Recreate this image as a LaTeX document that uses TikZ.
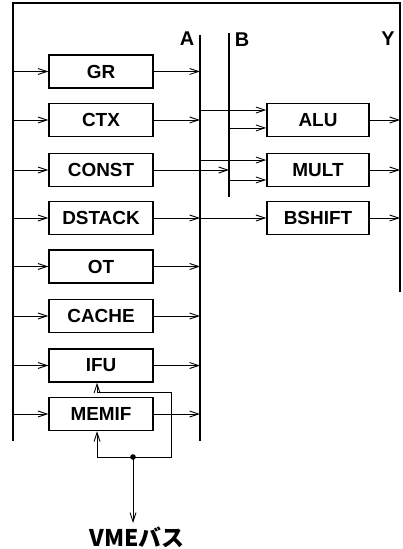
\documentclass[tikz,border=0pt]{standalone}
\usepackage{fontspec}
\setmainfont{Liberation Sans}
\newfontfamily\jpfont{Noto Sans CJK JP}
\usetikzlibrary{arrows.meta}
\begin{document}
\begin{tikzpicture}[x=1bp, y=-1bp,
    unit/.style={draw, line width=1.4pt, minimum width=104bp, minimum height=33bp,
        inner sep=0pt, font=\fontsize{19}{22}\selectfont\bfseries},
    bus/.style={line width=1.6pt},
    link/.style={line width=0.9pt, -{Straight Barb[length=9pt,width=6pt]}},
    buslabel/.style={font=\fontsize{20}{22}\selectfont\bfseries}]
\useasboundingbox (0,0) rectangle (402,549);
% buses and frame
\coordinate (Ytl) at (13,3);
\coordinate (Ylb) at (13,441);
\coordinate (Ytr) at (400,3);
\coordinate (Yrb) at (400,292);
\coordinate (Atop) at (200,35);
\coordinate (Abot) at (200,441);
\coordinate (Btop) at (229,33);
\coordinate (Bbot) at (229,197);
\draw[bus] (Ylb) -- (Ytl) -- (Ytr) -- (Yrb);
\draw[bus] (Atop) -- (Abot);
\draw[bus] (Btop) -- (Bbot);
\node[buslabel] (labA) at (187,39) {A};
\node[buslabel] (labB) at (242,40) {B};
\node[buslabel] (labY) at (388,39) {Y};
% left units
\foreach \nm/\yy in {GR/71.5, CTX/120, CONST/170, DSTACK/218, OT/266.5, CACHE/316, IFU/365.5, MEMIF/414}
  \node[unit] (\nm) at (101,\yy) {\nm};
\foreach \nm in {GR, CTX, CONST, DSTACK, OT, CACHE, IFU, MEMIF}
  \draw[link] (\nm.west -| Ytl) -- (\nm.west);
\foreach \nm in {GR, CTX, DSTACK, OT, CACHE, IFU, MEMIF}
  \draw[link] (\nm.east) -- (\nm.east -| Atop);
\draw[link] (CONST.east) -- (CONST.east -| Btop);
% right units
\node[unit, minimum width=102bp] (ALU) at (318,120) {ALU};
\node[unit, minimum width=102bp] (MULT) at (318,170) {MULT};
\node[unit, minimum width=102bp] (BSHIFT) at (318,218) {BSHIFT};
\coordinate (aluA) at ([yshift=10pt]ALU.west);
\coordinate (aluB) at ([yshift=-8pt]ALU.west);
\coordinate (mulA) at ([yshift=10pt]MULT.west);
\coordinate (mulB) at ([yshift=-10pt]MULT.west);
\draw[link] (aluA -| Atop) -- (aluA);
\draw[link] (aluB -| Btop) -- (aluB);
\draw[link] (mulA -| Atop) -- (mulA);
\draw[link] (mulB -| Btop) -- (mulB);
\draw[link] (BSHIFT.west -| Atop) -- (BSHIFT.west);
\foreach \nm in {ALU, MULT, BSHIFT}
  \draw[link] (\nm.east) -- (\nm.east -| Ytr);
% memory interface
\coordinate (tap) at (133,457);
\coordinate (fbtop) at (171,392);
\fill (tap) circle (2.8bp);
\draw[link] (tap) -| ([xshift=-4pt]MEMIF.south);
\draw[link] (tap) -| (fbtop) -| ([xshift=-4pt]IFU.south);
\node[font=\fontsize{23}{25}\selectfont\bfseries\jpfont, anchor=north] (vme) at (137,523) {VMEバス};
\draw[link] (tap) -- (tap |- vme.north);
\end{tikzpicture}
\end{document}
